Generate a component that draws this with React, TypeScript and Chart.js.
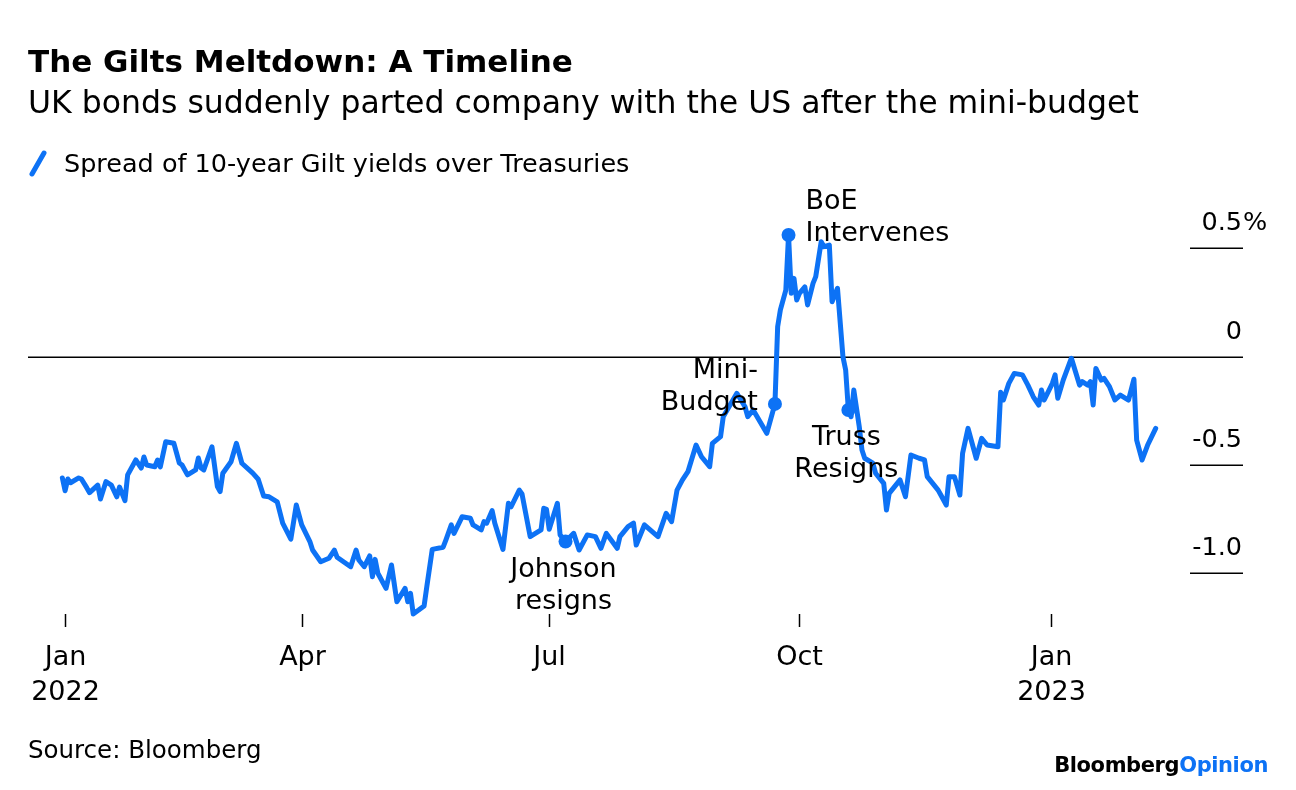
import React, { useEffect, useRef } from 'react';
import { Chart, registerables } from 'chart.js';

Chart.register(...registerables);

// Days since 2022-01-01
const days: number[] = [
  2, 3, 4, 5, 8, 9, 11, 12, 15, 16, 18, 20, 22, 23, 25, 26, 29, 31, 32, 33, 36, 37, 38, 40, 43, 45, 46, 48,
  51, 52, 53, 54, 57, 59, 60, 61, 64, 66, 68, 72, 74, 76, 78, 81, 83, 86, 88, 90, 93, 94, 97, 100, 102, 103,
  108, 110, 111, 113, 115, 116, 117, 118, 121, 123, 125, 128, 129, 130, 131, 133, 135, 136, 138, 142, 143,
  145, 146, 149, 152, 153, 156, 157, 158, 160, 161, 164, 166, 167, 170, 171, 174, 178, 179, 180, 181, 184,
  185, 187, 190, 192, 195, 198, 200, 202, 206, 207, 210, 212, 213, 216, 221, 224, 226, 228, 230, 232, 235,
  237, 240, 241, 244, 245, 250, 253, 254, 256, 261, 264, 265, 266, 268, 269, 270, 271, 272, 273, 275, 276,
  278, 279, 281, 282, 284, 285, 287, 289, 290, 291, 292, 293, 295, 296, 297, 300, 301, 304, 305, 306, 310,
  312, 314, 317, 319, 320, 324, 325, 327, 328, 330, 332, 333, 335, 338, 340, 342, 346, 347, 348, 350, 352,
  355, 357, 359, 361, 362, 363, 366, 367, 368, 370, 373, 376, 377, 379, 380, 381, 382, 384, 385, 387, 389,
  391, 394, 396, 397, 399, 401, 404,
];

// Spread of 10-year Gilt yields over Treasuries (percentage points)
const spread: number[] = [
  -0.561, -0.62, -0.566, -0.583, -0.561, -0.566, -0.607, -0.629, -0.594, -0.658, -0.578, -0.594, -0.648,
  -0.603, -0.666, -0.547, -0.478, -0.515, -0.464, -0.501, -0.509, -0.478, -0.51, -0.394, -0.401, -0.492,
  -0.501, -0.547, -0.524, -0.469, -0.515, -0.524, -0.417, -0.601, -0.624, -0.539, -0.486, -0.401, -0.493,
  -0.539, -0.567, -0.644, -0.648, -0.671, -0.77, -0.844, -0.686, -0.778, -0.855, -0.894, -0.948, -0.932,
  -0.894, -0.927, -0.971, -0.894, -0.94, -0.971, -0.921, -1.017, -0.937, -1.001, -1.071, -0.963, -1.133,
  -1.071, -1.133, -1.094, -1.189, -1.171, -1.152, -1.063, -0.891, -0.881, -0.848, -0.778, -0.817, -0.74,
  -0.747, -0.778, -0.801, -0.763, -0.77, -0.712, -0.77, -0.891, -0.678, -0.694, -0.617, -0.635, -0.832,
  -0.801, -0.701, -0.706, -0.798, -0.678, -0.824, -0.855, -0.817, -0.894, -0.824, -0.832, -0.886, -0.817,
  -0.886, -0.832, -0.786, -0.77, -0.871, -0.778, -0.832, -0.724, -0.763, -0.617, -0.57, -0.532, -0.409,
  -0.463, -0.509, -0.401, -0.37, -0.278, -0.17, -0.232, -0.278, -0.247, -0.355, -0.219, 0.138, 0.215,
  0.307, 0.561, 0.292, 0.361, 0.261, 0.292, 0.322, 0.238, 0.338, 0.369, 0.53, 0.507, 0.515, 0.253, 0.315,
  -0.001, -0.062, -0.247, -0.278, -0.155, -0.324, -0.432, -0.47, -0.493, -0.539, -0.586, -0.709, -0.632,
  -0.57, -0.648, -0.455, -0.47, -0.478, -0.555, -0.617, -0.64, -0.686, -0.555, -0.555, -0.64, -0.447,
  -0.332, -0.47, -0.378, -0.409, -0.417, -0.165, -0.201, -0.124, -0.078, -0.085, -0.132, -0.186, -0.224,
  -0.155, -0.201, -0.124, -0.085, -0.193, -0.109, -0.008, -0.132, -0.116, -0.132, -0.116, -0.224, -0.055,
  -0.109, -0.101, -0.139, -0.201, -0.178, -0.201, -0.105, -0.386, -0.478, -0.41, -0.332,
];

const xTickDays: number[] = [2.8, 90, 181, 273, 365.5];
const xTickMonths: string[] = ['Jan', 'Apr', 'Jul', 'Oct', 'Jan'];
const xTickYears: string[] = ['2022', '', '', '', '2023'];

const yTickValues: number[] = [0.5, 0, -0.5, -1.0];
const yTickLabels: string[] = ['0.5', '0', '-0.5', '-1.0'];
const yUnit = '%';

const eventDays: number[] = [187, 264, 269, 291];
const eventLabels: string[][] = [
  ['Johnson', 'resigns'],
  ['Mini-', 'Budget'],
  ['BoE', 'Intervenes'],
  ['Truss', 'Resigns'],
];
const eventPlacement: string[] = ['below', 'left', 'right', 'below'];

const BLUE = '#0d72f5';
const FONT = '"DejaVu Sans", "Liberation Sans", sans-serif';

const overlayPlugin = {
  id: 'overlay',
  beforeDatasetsDraw(chart: any) {
    const { ctx, scales, chartArea } = chart;
    const y = scales.y;
    const x = scales.x;
    ctx.save();
    ctx.strokeStyle = '#000';
    ctx.lineWidth = 1.5;
    ctx.fillStyle = '#000';
    ctx.font = `25.5px ${FONT}`;
    yTickValues.forEach((v, i) => {
      const py = Math.round(y.getPixelForValue(v)) + 0.25;
      ctx.beginPath();
      const x0 = v === 0 ? chartArea.left : chartArea.right - 53;
      ctx.moveTo(x0, py);
      ctx.lineTo(chartArea.right, py);
      ctx.stroke();
      ctx.textAlign = 'right';
      ctx.textBaseline = 'alphabetic';
      const tx = chartArea.right - 1;
      ctx.fillText(yTickLabels[i], tx, py - 18);
      if (i === 0) {
        ctx.textAlign = 'left';
        ctx.fillText(yUnit, tx + 1, py - 18);
      }
    });
    // x ticks
    ctx.font = `27px ${FONT}`;
    ctx.textAlign = 'center';
    xTickDays.forEach((d, i) => {
      const px = Math.round(x.getPixelForValue(d)) + 0.5;
      ctx.beginPath();
      ctx.moveTo(px, chartArea.bottom - 16);
      ctx.lineTo(px, chartArea.bottom - 3);
      ctx.stroke();
      ctx.textBaseline = 'middle';
      ctx.fillText(xTickMonths[i], px, chartArea.bottom + 28);
      if (xTickYears[i]) ctx.fillText(xTickYears[i], px, chartArea.bottom + 63);
    });
    ctx.restore();
  },
  afterDatasetsDraw(chart: any) {
    const { ctx, scales } = chart;
    const x = scales.x;
    const y = scales.y;
    ctx.save();
    ctx.fillStyle = '#000';
    ctx.font = `27px ${FONT}`;
    ctx.textBaseline = 'middle';
    eventDays.forEach((d, i) => {
      const idx = days.indexOf(d);
      const px = x.getPixelForValue(d);
      const py = y.getPixelForValue(spread[idx]);
      const lines = eventLabels[i];
      const place = eventPlacement[i];
      lines.forEach((t, j) => {
        if (place === 'right') {
          ctx.textAlign = 'left';
          ctx.fillText(t, px + 17, py - 33 + j * 32);
        } else if (place === 'left') {
          ctx.textAlign = 'right';
          ctx.fillText(t, px - 17, py - 33 + j * 32);
        } else {
          ctx.textAlign = 'center';
          ctx.fillText(t, px - 2, py + 28 + j * 32);
        }
      });
    });
    ctx.restore();
  },
};

export default function App() {
  const ref = useRef<HTMLCanvasElement | null>(null);

  useEffect(() => {
    if (!ref.current) return;
    const pointRadius = days.map((d) => (eventDays.includes(d) ? 7 : 0));
    const chart = new Chart(ref.current, {
      type: 'line',
      data: {
        datasets: [
          {
            label: 'Spread of 10-year Gilt yields over Treasuries',
            data: days.map((d, i) => ({ x: d, y: spread[i] })),
            borderColor: BLUE,
            backgroundColor: BLUE,
            borderWidth: 5,
            pointRadius,
            pointHoverRadius: pointRadius,
            pointBorderWidth: 0,
            borderJoinStyle: 'round',
            borderCapStyle: 'round',
            tension: 0,
          },
        ],
      },
      options: {
        responsive: false,
        animation: false,
        events: [],
        layout: { padding: { left: 28, right: 53, top: 190, bottom: 160 } },
        plugins: { legend: { display: false }, tooltip: { enabled: false }, title: { display: false } },
        scales: {
          x: { type: 'linear', display: false, min: -10.64, max: 436.1 },
          y: { type: 'linear', display: false, min: -1.2633, max: 0.7691 },
        },
      },
      plugins: [overlayPlugin],
    });
    return () => chart.destroy();
  }, []);

  const text: React.CSSProperties = { position: 'absolute', margin: 0, fontFamily: FONT, color: '#000', whiteSpace: 'nowrap' };

  return (
    <div style={{ position: 'absolute', left: 0, top: 0, width: 1296, height: 790, background: '#fff', overflow: 'hidden' }}>
      <canvas ref={ref} width={1296} height={790} style={{ position: 'absolute', left: 0, top: 0, width: 1296, height: 790 }} />
      <div style={{ ...text, left: 28, top: 43, fontSize: 31, fontWeight: 700, lineHeight: '36px' }}>
        The Gilts Meltdown: A Timeline
      </div>
      <div style={{ ...text, left: 28, top: 84, fontSize: 31.5, lineHeight: '36px' }}>
        UK bonds suddenly parted company with the US after the mini-budget
      </div>
      <div style={{ ...text, left: 28, top: 148, height: 30, display: 'flex', alignItems: 'center' }}>
        <svg width="20" height="30" style={{ marginRight: 16 }}>
          <line x1="4" y1="26" x2="16" y2="5" stroke={BLUE} strokeWidth="5" strokeLinecap="round" />
        </svg>
        <span style={{ fontSize: 25.5 }}>Spread of 10-year Gilt yields over Treasuries</span>
      </div>
      <div style={{ ...text, left: 28, top: 734, fontSize: 24.5, lineHeight: '32px' }}>Source: Bloomberg</div>
      <div style={{ ...text, right: 28, top: 750, fontSize: 21, fontWeight: 700, lineHeight: '30px', letterSpacing: '-0.4px' }}>
        Bloomberg<span style={{ color: BLUE }}>Opinion</span>
      </div>
    </div>
  );
}
